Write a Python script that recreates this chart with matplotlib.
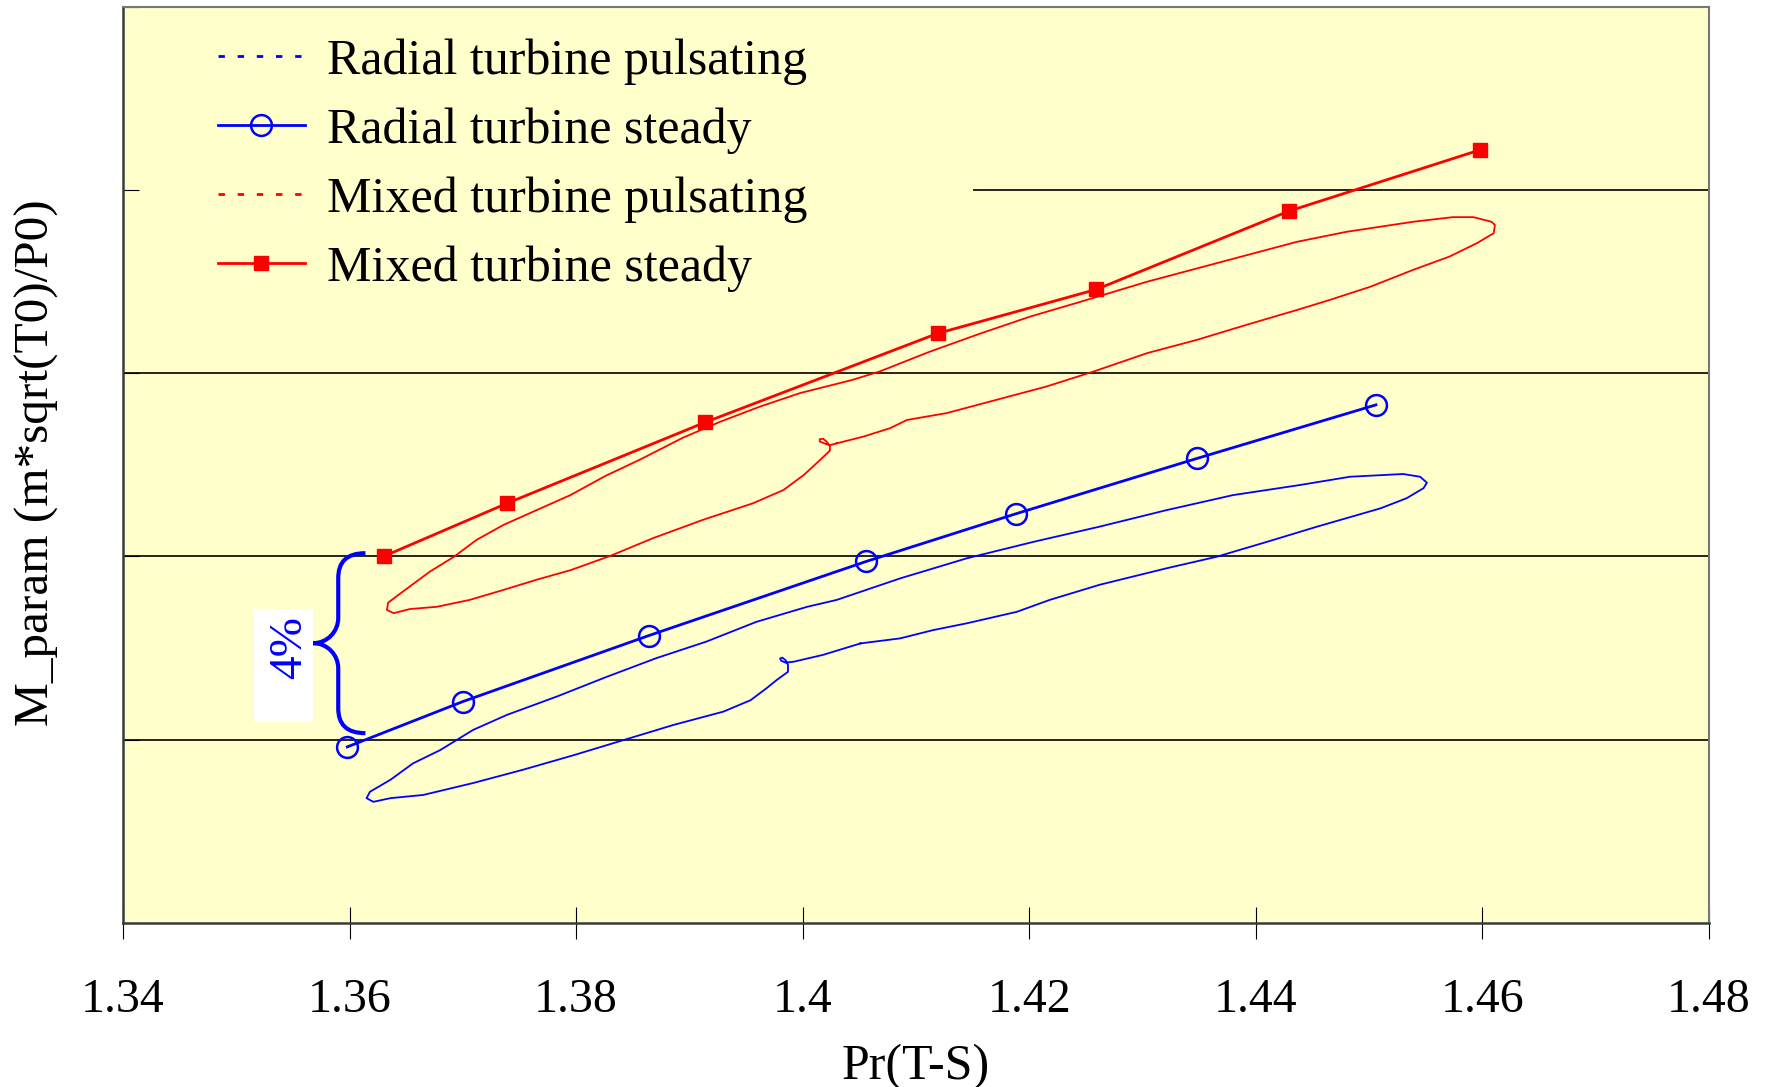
import matplotlib
matplotlib.use("Agg")
import matplotlib.pyplot as plt
from matplotlib.lines import Line2D
from matplotlib.patches import PathPatch, Rectangle
from matplotlib.path import Path
from matplotlib.ticker import FuncFormatter

plt.rcParams['font.family'] = ['Liberation Serif', 'DejaVu Serif']

# ---- steady operating points ----
radial_steady_pr = [1.3598, 1.3700, 1.3864, 1.4056, 1.4188, 1.4348, 1.4506]
radial_steady_m = [0.9584, 0.9683, 0.9827, 0.9989, 1.0093, 1.0214, 1.0331]
mixed_steady_pr = [1.3630, 1.3739, 1.3914, 1.4119, 1.4259, 1.4429, 1.4598]
mixed_steady_m = [1.0000, 1.0116, 1.0293, 1.0487, 1.0583, 1.0754, 1.0888]

# ---- pulsating-flow hysteresis loops ----
mixed_puls_pr = [1.4030, 1.4024, 1.4020, 1.4015, 1.4015, 1.4018, 1.4021, 1.4024,
                 1.4024, 1.4012, 1.4001, 1.3983, 1.3956, 1.3912, 1.3868, 1.3830,
                 1.3795, 1.3765, 1.3736, 1.3706, 1.3677, 1.3653, 1.3639, 1.3633,
                 1.3634, 1.3647, 1.3671, 1.3692, 1.3712, 1.3736, 1.3765, 1.3795,
                 1.3826, 1.3856, 1.3894, 1.3927, 1.3962, 1.3998, 1.4043, 1.4068,
                 1.4112, 1.4157, 1.4201, 1.4245, 1.4304, 1.4348, 1.4392, 1.4436,
                 1.4480, 1.4539, 1.4574, 1.4592, 1.4608, 1.4611, 1.4610, 1.4595,
                 1.4571, 1.4539, 1.4501, 1.4465, 1.4436, 1.4392, 1.4348, 1.4304,
                 1.4257, 1.4215, 1.4171, 1.4127, 1.4092, 1.4077, 1.4054, 1.4030]
mixed_puls_m = [1.0247, 1.0243, 1.0246, 1.0251, 1.0256, 1.0257, 1.0251, 1.0241,
                1.0231, 1.0203, 1.0178, 1.0145, 1.0116, 1.0080, 1.0040, 1.0001,
                0.9970, 0.9949, 0.9927, 0.9905, 0.9890, 0.9885, 0.9876, 0.9883,
                0.9899, 0.9923, 0.9967, 0.9999, 1.0036, 1.0069, 1.0101, 1.0134,
                1.0176, 1.0211, 1.0259, 1.0294, 1.0327, 1.0357, 1.0385, 1.0404,
                1.0447, 1.0487, 1.0524, 1.0556, 1.0600, 1.0629, 1.0658, 1.0687,
                1.0709, 1.0731, 1.0741, 1.0741, 1.0731, 1.0724, 1.0706, 1.0684,
                1.0655, 1.0626, 1.0589, 1.0560, 1.0538, 1.0506, 1.0473, 1.0444,
                1.0404, 1.0371, 1.0342, 1.0313, 1.0298, 1.0280, 1.0262, 1.0247]

radial_puls_pr = [1.4051, 1.4018, 1.3992, 1.3985, 1.3981, 1.3980, 1.3982, 1.3985,
                  1.3987, 1.3987, 1.3977, 1.3968, 1.3954, 1.3930, 1.3886, 1.3842,
                  1.3798, 1.3753, 1.3709, 1.3665, 1.3636, 1.3621, 1.3615, 1.3618,
                  1.3636, 1.3656, 1.3680, 1.3709, 1.3739, 1.3783, 1.3827, 1.3871,
                  1.3915, 1.3959, 1.4004, 1.4030, 1.4086, 1.4145, 1.4204, 1.4262,
                  1.4321, 1.4380, 1.4439, 1.4483, 1.4530, 1.4545, 1.4551, 1.4548,
                  1.4533, 1.4510, 1.4454, 1.4410, 1.4365, 1.4321, 1.4262, 1.4218,
                  1.4189, 1.4145, 1.4115, 1.4086, 1.4051]
radial_puls_m = [0.9810, 0.9785, 0.9770, 0.9768, 0.9772, 0.9777, 0.9779, 0.9773,
                 0.9763, 0.9748, 0.9730, 0.9712, 0.9686, 0.9661, 0.9632, 0.9599,
                 0.9566, 0.9534, 0.9505, 0.9479, 0.9472, 0.9464, 0.9472, 0.9486,
                 0.9512, 0.9548, 0.9577, 0.9621, 0.9654, 0.9694, 0.9737, 0.9778,
                 0.9814, 0.9857, 0.9890, 0.9905, 0.9952, 0.9996, 1.0032, 1.0065,
                 1.0101, 1.0134, 1.0156, 1.0174, 1.0180, 1.0174, 1.0161, 1.0149,
                 1.0127, 1.0105, 1.0065, 1.0032, 0.9999, 0.9974, 0.9938, 0.9905,
                 0.9879, 0.9854, 0.9839, 0.9821, 0.9810]

x_ticks = [1.34, 1.36, 1.38, 1.40, 1.42, 1.44, 1.46, 1.48]
y_levels = [0.92, 0.96, 1.00, 1.04, 1.08, 1.12]

series_labels = ["Radial turbine pulsating", "Radial turbine steady",
                 "Mixed turbine pulsating", "Mixed turbine steady"]
gap_label = "4%"

BG = '#FFFFCC'
RED = '#FF0000'
BLUE = '#0000FF'

fig = plt.figure(figsize=(17.69, 10.87), dpi=100)
ax = fig.add_axes([0.06953, 0.15115, 0.89655, 0.84241])
ax.set_facecolor(BG)
ax.set_xlim(x_ticks[0], x_ticks[-1])
ax.set_ylim(y_levels[0], y_levels[-1])

# horizontal grid
for yv in y_levels[1:-1]:
    ax.axhline(yv, color='black', lw=1.2, zorder=1)

# legend area is opaque and hides the grid behind it
ax.add_patch(Rectangle((0, 0.6866), 0.536, 0.3134, transform=ax.transAxes,
                       facecolor=BG, edgecolor='none', zorder=1.2))

# pulsating loops
ax.plot(mixed_puls_pr, mixed_puls_m, color=RED, lw=1.3, zorder=2)
ax.plot(radial_puls_pr, radial_puls_m, color=BLUE, lw=1.3, zorder=2)

# steady characteristics
l_rs, = ax.plot(radial_steady_pr, radial_steady_m, color=BLUE, lw=2.0,
                marker='o', ms=15, mfc='none', mec=BLUE, mew=1.8, zorder=3)
l_ms, = ax.plot(mixed_steady_pr, mixed_steady_m, color=RED, lw=2.0,
                marker='s', ms=10.5, mfc=RED, mec=RED, zorder=3)

# curly brace marking the gap between the two steady curves
xs, xt, xe = 1.3590, 1.3568, 1.3614     # spine, tip, end x
yt, yb = 1.0007, 0.9614                 # top and bottom ends
ym = 0.5 * (yt + yb)
r = 0.0055
verts = [(xe, yt), (xs + 0.3 * (xe - xs), yt), (xs, yt - 0.35 * r), (xs, yt - r),
         (xs, ym + r),
         (xs, ym + 0.45 * r), (xs - 0.45 * (xs - xt), ym), (xt, ym),
         (xt, ym),
         (xs - 0.45 * (xs - xt), ym), (xs, ym - 0.45 * r), (xs, ym - r),
         (xs, yb + r),
         (xs, yb + 0.35 * r), (xs + 0.3 * (xe - xs), yb), (xe, yb)]
codes = [Path.MOVETO, Path.CURVE4, Path.CURVE4, Path.CURVE4,
         Path.LINETO,
         Path.CURVE4, Path.CURVE4, Path.CURVE4,
         Path.MOVETO,
         Path.CURVE4, Path.CURVE4, Path.CURVE4,
         Path.LINETO,
         Path.CURVE4, Path.CURVE4, Path.CURVE4]
ax.add_patch(PathPatch(Path(verts, codes), facecolor='none', edgecolor=BLUE,
                       lw=3.0, capstyle='butt', zorder=4))

ax.add_patch(Rectangle((1.35156, 0.96390), 0.00519, 0.02462,
                       facecolor='white', edgecolor='none', zorder=4))
ax.text(1.35475, 0.9800, gap_label, rotation=90, color=BLUE, fontsize=34,
        ha='center', va='center', zorder=5)

# axes styling
ax.set_xticks(x_ticks)
ax.set_yticks(y_levels)
ax.xaxis.set_major_formatter(FuncFormatter(lambda v, p: f'{v:g}'))
ax.tick_params(axis='x', direction='inout', length=23, width=0.8,
               labelsize=34.5, pad=28)
ax.tick_params(axis='y', direction='in', length=11.5, width=0.8,
               labelleft=False)
for side in ['left', 'bottom']:
    ax.spines[side].set_color('#3a3a3a')
    ax.spines[side].set_linewidth(1.8)
for side in ['top', 'right']:
    ax.spines[side].set_color('#777777')
    ax.spines[side].set_linewidth(1.5)

ax.set_xlabel('Pr(T-S)', fontsize=36, labelpad=16)
ax.set_ylabel('M_param (m*sqrt(T0)/P0)', fontsize=35.5)
ax.yaxis.set_label_coords(-0.0405, 0.502)

# legend
h_rp = Line2D([], [], color=BLUE, lw=2.0, ls=(0, (2.3, 4.6)))
h_mp = Line2D([], [], color=RED, lw=2.0, ls=(0, (2.3, 4.6)))
ax.legend([h_rp, l_rs, h_mp, l_ms], series_labels, loc='upper left',
          bbox_to_anchor=(0.0599, 0.9661), frameon=False, fontsize=36,
          handlelength=1.74, handletextpad=0.44, labelspacing=0.45,
          borderpad=0, borderaxespad=0, numpoints=1)

fig.savefig('out.png', dpi=100, facecolor='white')
